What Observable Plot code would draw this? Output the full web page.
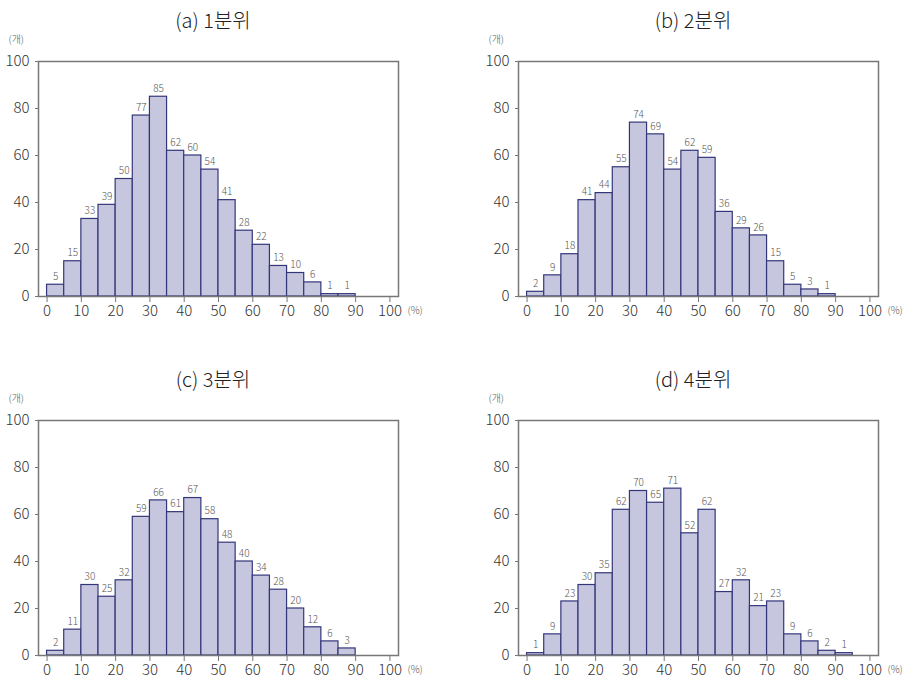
<!DOCTYPE html>
<html><head><meta charset="utf-8">
<script src="https://cdn.jsdelivr.net/npm/d3@7"></script>
<script src="https://cdn.jsdelivr.net/npm/@observablehq/plot@0.6"></script>
<style>
body{margin:0;background:#fff;font-family:"Noto Sans CJK KR","Noto Sans",sans-serif;}
#wrap{position:relative;width:906px;height:682px;overflow:hidden;}
.panel{position:absolute;width:426px;height:340px;}
.title{position:absolute;top:0;left:0;width:426px;height:35px;padding-top:5px;line-height:30px;text-align:center;font-size:20px;font-weight:300;color:#222;box-sizing:border-box;}
.chart{position:absolute;top:35px;left:0;}
</style></head>
<body><div id="wrap"></div>
<script>
const titles = ["(a) 1분위", "(b) 2분위", "(c) 3분위", "(d) 4분위"];
const binStarts = [0,5,10,15,20,25,30,35,40,45,50,55,60,65,70,75,80,85,90];
const q1 = [5,15,33,39,50,77,85,62,60,54,41,28,22,13,10,6,1,1];
const q2 = [2,9,18,41,44,55,74,69,54,62,59,36,29,26,15,5,3,1];
const q3 = [2,11,30,25,32,59,66,61,67,58,48,40,34,28,20,12,6,3];
const q4 = [1,9,23,30,35,62,70,65,71,52,62,27,32,21,23,9,6,2,1];
const xTicks = [0,10,20,30,40,50,60,70,80,90,100];
const yTicks = [0,20,40,60,80,100];
const yUnit = "(개)";
const xUnit = "(%)";
const series = [q1,q2,q3,q4];
const positions = [[0,0],[480,0],[0,359],[480,359]];
const font = '"Noto Sans CJK KR","Noto Sans",sans-serif';

const wrap = document.getElementById("wrap");
series.forEach((vals, i) => {
  const data = vals.map((v, j) => ({x1: binStarts[j], x2: binStarts[j] + 5, y: v}));
  const panel = document.createElement("div");
  panel.className = "panel";
  panel.style.left = positions[i][0] + "px";
  panel.style.top = positions[i][1] + "px";
  const t = document.createElement("div");
  t.className = "title";
  t.textContent = titles[i];
  panel.appendChild(t);
  const chart = Plot.plot({
    width: 426, height: 300,
    marginLeft: 38, marginRight: 28, marginTop: 26, marginBottom: 39,
    style: {fontFamily: font, fontSize: "15px", color: "#333", fontWeight: 300, overflow: "visible"},
    x: {domain: [-2.5, 102.5], ticks: xTicks, tickSize: 6, tickPadding: 3, label: null},
    y: {domain: [0, 100], ticks: yTicks, tickSize: 3, tickPadding: 6, label: null},
    marks: [
      Plot.rectY(data, {x1: "x1", x2: "x2", y: "y", fill: "#c6c6de", stroke: "#34367a", strokeWidth: 1.2}),
      Plot.text(data, {x: d => (d.x1 + d.x2) / 2, y: "y", text: d => String(d.y), dy: -8, fontSize: 10, fill: "#555"}),
      Plot.frame({stroke: "#777", strokeWidth: 1.5}),
      Plot.axisX({ticks: xTicks, tickSize: 6, tickPadding: 3, stroke: "#777", fill: "#333"}),
      Plot.axisY({ticks: yTicks, tickSize: 3, tickPadding: 6, stroke: "#777", fill: "#333"}),
      Plot.text([yUnit], {frameAnchor: "top-left", dx: -30, dy: -26, fontSize: 10, fill: "#555", textAnchor: "start"}),
      Plot.text([xUnit], {frameAnchor: "bottom-right", dx: 9, dy: 17, fontSize: 10, fill: "#555", textAnchor: "start"})
    ]
  });
  chart.classList.add("chart");
  panel.appendChild(chart);
  wrap.appendChild(panel);
});
</script></body></html>
